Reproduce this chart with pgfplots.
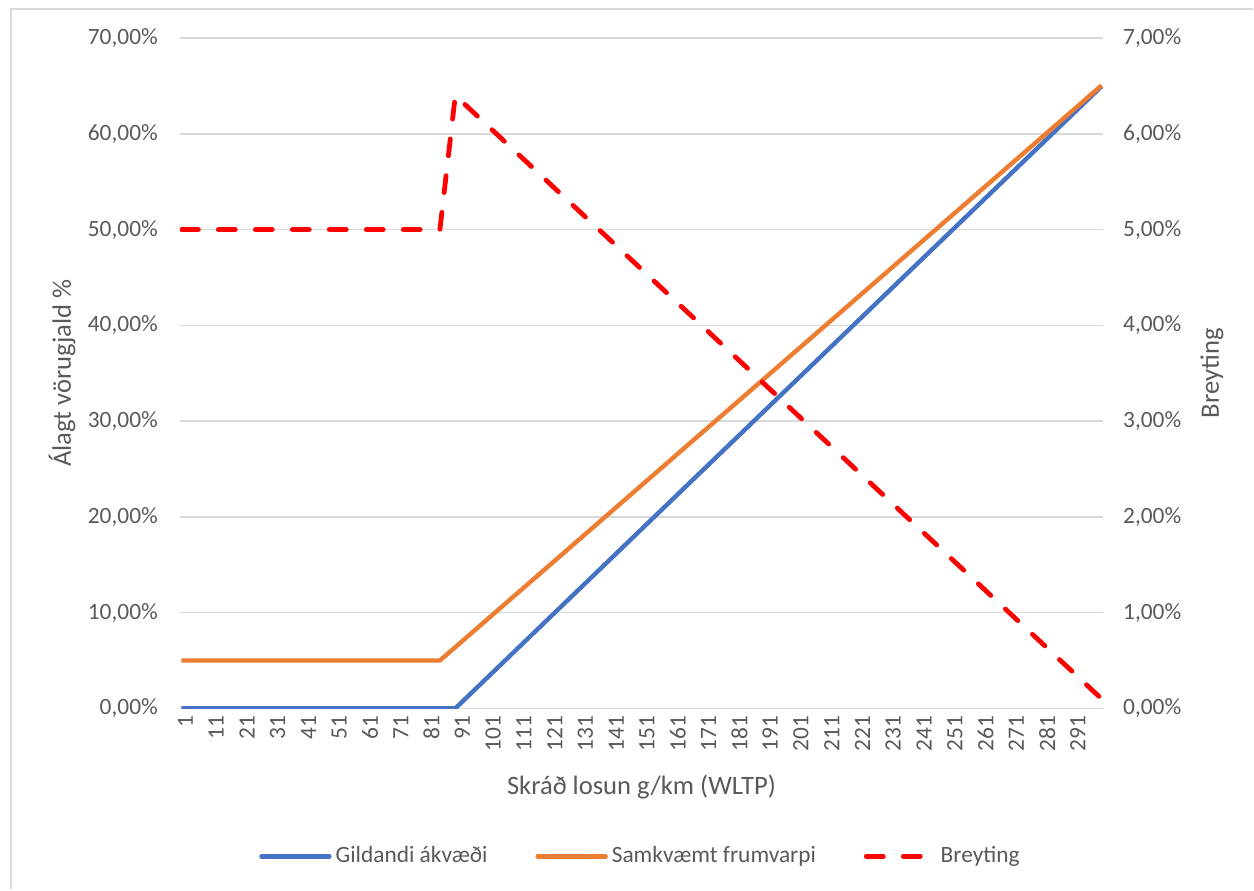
\documentclass[border=0pt]{standalone}
\usepackage{pgfplots}
\pgfplotsset{compat=1.18}
\usepackage{fontspec}
\setmainfont{Carlito}

\definecolor{xlblue}{HTML}{4472C4}
\definecolor{xlorange}{HTML}{ED7D31}
\definecolor{xlred}{HTML}{FF0000}
\definecolor{gridgray}{HTML}{D9D9D9}
\definecolor{txtgray}{HTML}{595959}

\newcommand{\tickfont}{\fontsize{11.7bp}{14bp}\selectfont}
\newcommand{\titlefont}{\fontsize{13.3bp}{16bp}\selectfont}

\pgfplotsset{
  common/.style={
    at={(90bp,90.5bp)}, anchor=south west,
    scale only axis, width=462bp, height=335.5bp,
    xmin=0.5, xmax=300.5,
    axis line style={draw=none},
    major tick length=0pt,
    tick label style={font=\tickfont, text=txtgray},
    label style={font=\titlefont, text=txtgray},
  }
}

\begin{document}
\begin{tikzpicture}
% page size and the frame of the chart area
\path (0,0) rectangle (627bp,445bp);
\draw[gridgray, line width=1bp] (5.5bp,0) -- (5.5bp,440.5bp) -- (627bp,440.5bp);

\begin{axis}[
  common,
  ymin=0, ymax=70,
  ytick={0,10,...,70},
  yticklabels={{0,00\%},{10,00\%},{20,00\%},{30,00\%},{40,00\%},{50,00\%},{60,00\%},{70,00\%}},
  yticklabel style={xshift=-7.5bp},
  ymajorgrids,
  major grid style={gridgray, line width=0.8bp},
  xtick={1,11,...,291},
  xticklabels={1,11,21,31,41,51,61,71,81,91,101,111,121,131,141,151,161,171,181,191,201,211,221,231,241,251,261,271,281,291},
  xticklabel style={rotate=90, anchor=east, yshift=-2bp},
  xlabel={Skráð losun g/km (WLTP)},
  xlabel style={at={(axis description cs:0.5,-0.1177)}, anchor=center},
  ylabel={Álagt vörugjald \%},
  ylabel style={at={(axis description cs:-0.1277,0.5)}, anchor=center, rotate=0},
]
\addplot[xlblue, line width=2.2bp, line join=round] coordinates {(1,0) (90,0) (300,64.95)};
\addplot[xlorange, line width=2.2bp, line join=round] coordinates {(1,5) (85,5) (300,65.05)};
\end{axis}

\begin{axis}[
  common,
  ymin=0, ymax=7,
  axis x line=none,
  axis y line*=right,
  ytick={0,1,...,7},
  yticklabels={{0,00\%},{1,00\%},{2,00\%},{3,00\%},{4,00\%},{5,00\%},{6,00\%},{7,00\%}},
  yticklabel style={xshift=6.5bp},
  ylabel={Breyting},
  ylabel style={at={(axis description cs:1.118,0.5)}, anchor=center, rotate=0},
  legend columns=3,
  legend style={at={(0.5,-0.2206)}, anchor=center, draw=none, fill=none,
    font=\tickfont, text=txtgray,
    /tikz/every even column/.append style={column sep=22bp}},
  legend image code/.code={\draw[#1] (0bp,0bp) -- (34bp,0bp);},
]
\addlegendimage{xlblue, line width=2.2bp, line cap=round}
\addlegendentry{Gildandi ákvæði}
\addlegendimage{xlorange, line width=2.2bp, line cap=round}
\addlegendentry{Samkvæmt frumvarpi}
\addplot[xlred, line width=2.4bp, line cap=round, dash pattern=on 8.5bp off 10bp]
  coordinates {(1,5) (85,5) (90,6.4) (300,0.1)};
\addlegendentry{Breyting}
\end{axis}
\end{tikzpicture}
\end{document}
